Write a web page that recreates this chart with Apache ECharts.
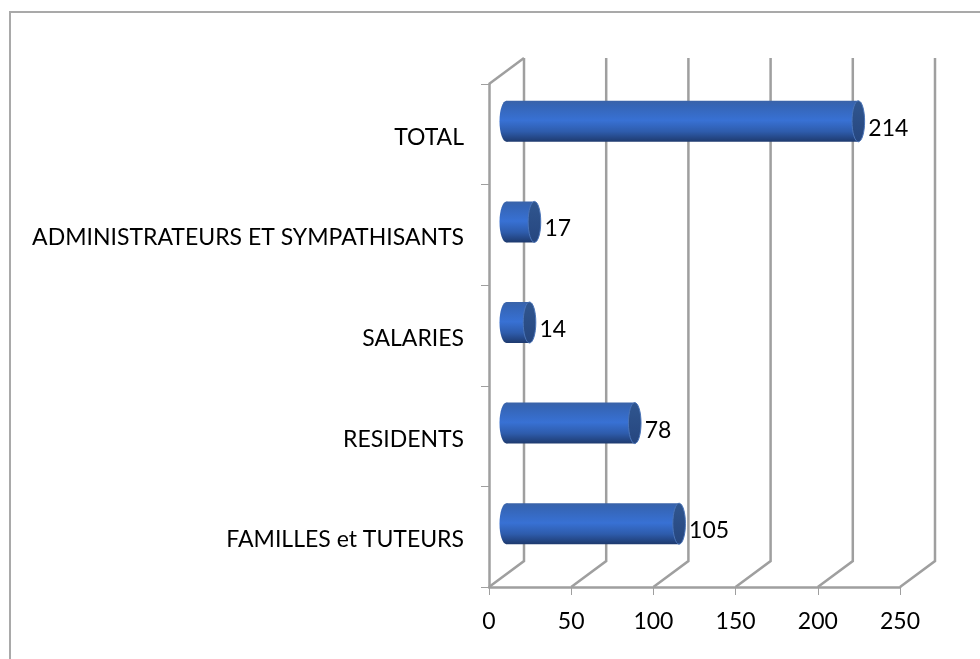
<!DOCTYPE html>
<html>
<head>
<meta charset="utf-8">
<style>html,body{margin:0;padding:0;background:#fff}#c{width:980px;height:659px}</style>
<script src="https://cdn.jsdelivr.net/npm/echarts@6/dist/echarts.min.js"></script>
</head>
<body>
<div id="c"></div>
<script>
const categories = ['FAMILLES et TUTEURS', 'RESIDENTS', 'SALARIES', 'ADMINISTRATEURS ET SYMPATHISANTS', 'TOTAL'];
const values = [105, 78, 14, 17, 214];
const xTicks = [0, 50, 100, 150, 200, 250];

const depthX = 35, depthY = 26;
const barH = 41, capRx = 6.3;
const FONT = 'Lato, Carlito, sans-serif';
const GRID = '#9f9f9f';

const chart = echarts.init(document.getElementById('c'), null, {renderer: 'canvas'});

function grad(stops) {
  return new echarts.graphic.LinearGradient(0, 0, 0, 1, stops);
}
const bodyGrad = () => grad([
  {offset: 0, color: '#3a63a8'},
  {offset: 0.12, color: '#3565b6'},
  {offset: 0.48, color: '#3871d4'},
  {offset: 0.75, color: '#2e5cac'},
  {offset: 1, color: '#1e3a6e'}
]);
const capGrad = () => grad([
  {offset: 0, color: '#30568f'},
  {offset: 1, color: '#26467f'}
]);

chart.setOption({
  animation: false,
  backgroundColor: '#fff',
  textStyle: {fontFamily: FONT},
  grid: {left: 489, right: 80, top: 84, bottom: 72, containLabel: false},
  xAxis: {
    type: 'value', min: 0, max: 250, interval: 50,
    axisLine: {show: true, onZero: false, lineStyle: {color: GRID, width: 2.5}},
    axisTick: {show: true, length: 8, lineStyle: {color: GRID, width: 1}},
    axisLabel: {color: '#000', fontSize: 23, fontFamily: FONT, margin: 23},
    splitLine: {show: false}
  },
  yAxis: {
    type: 'category', data: categories,
    axisLine: {show: true, lineStyle: {color: GRID, width: 2.5}},
    axisTick: {show: true, length: 8, alignWithLabel: false, lineStyle: {color: GRID, width: 1}},
    axisLabel: {color: '#000', fontSize: 23, fontFamily: FONT, margin: 25, verticalAlign: 'top', lineHeight: 6},
    splitLine: {show: false}
  },
  graphic: [{
    type: 'polyline', silent: true, z: -1,
    shape: {points: [[10, 659], [10, 12], [980, 12]]},
    style: {stroke: '#a9a9a9', lineWidth: 2, fill: null}
  }],
  series: [
    {
      type: 'custom', coordinateSystem: 'cartesian2d', z: 1, silent: true,
      data: xTicks.map(v => [v, 0]),
      encode: {x: 0, y: 1},
      renderItem(params, api) {
        const cs = params.coordSys;
        const x = api.coord([api.value(0), 0])[0];
        const base = cs.y + cs.height, top = cs.y;
        const children = [{
          type: 'polyline',
          shape: {points: [[x, base], [x + depthX, base - depthY], [x + depthX, top - depthY]]},
          style: {stroke: GRID, lineWidth: 2.5, fill: null}
        }];
        if (api.value(0) === 0) {
          children.push({
            type: 'line',
            shape: {x1: x, y1: top, x2: x + depthX, y2: top - depthY},
            style: {stroke: GRID, lineWidth: 2.5}
          });
        }
        return {type: 'group', children};
      }
    },
    {
      type: 'custom', coordinateSystem: 'cartesian2d', z: 3, silent: true,
      data: values.map((v, i) => [v, i]),
      encode: {x: 0, y: 1},
      renderItem(params, api) {
        const v = api.value(0);
        const p0 = api.coord([0, api.value(1)]);
        const p1 = api.coord([v, api.value(1)]);
        const x0 = p0[0] + depthX / 2, x1 = p1[0] + depthX / 2;
        const cy = p0[1] - depthY / 2;
        const ry = barH / 2;
        return {
          type: 'group',
          children: [
            {type: 'ellipse', shape: {cx: x0, cy, rx: capRx + 0.7, ry}, style: {fill: bodyGrad()}},
            {type: 'rect', shape: {x: x0, y: cy - ry, width: x1 - x0, height: barH}, style: {fill: bodyGrad()}},
            {type: 'ellipse', shape: {cx: x1, cy, rx: capRx, ry}, style: {fill: capGrad(), stroke: '#4a74b8', lineWidth: 1}},
            {type: 'text', style: {
              x: p1[0] + 27.5, y: p0[1] - 6, text: String(v),
              fill: '#000', font: '23px ' + FONT,
              align: 'left', verticalAlign: 'middle'
            }}
          ]
        };
      }
    }
  ]
});
</script>
</body>
</html>
